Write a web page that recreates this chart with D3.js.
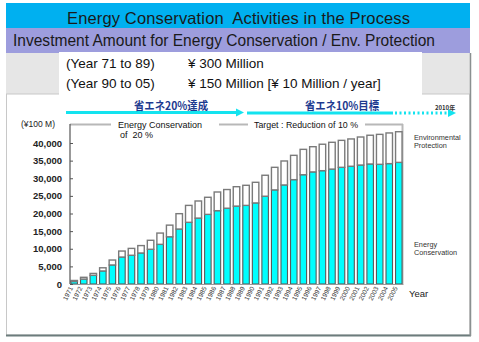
<!DOCTYPE html>
<html>
<head>
<meta charset="utf-8">
<script src="https://cdn.jsdelivr.net/npm/d3@7"></script>
<style>
  body { margin: 0; background: #fff; }
  svg { display: block; font-family: "Liberation Sans", Arial, sans-serif; }
  text { white-space: pre; }
</style>
</head>
<body>
<script>
// data (unit: 100 million yen)
var years = d3.range(1971, 2006);
var energyConservation = [700, 1400, 2450, 3700, 5400, 7650, 8150, 8800, 9850, 11250,
  13400, 15600, 17500, 18700, 19750, 20800, 21500, 22100, 22300, 23000,
  24900, 26700, 28100, 29600, 31000, 31800, 32150, 32600, 33100, 33400,
  33750, 34050, 33950, 34150, 34500];
var envProtection = [300, 500, 550, 900, 1400, 1700, 1950, 2100, 2550, 3200,
  3300, 4350, 4800, 4850, 4850, 5300, 5300, 5500, 5700, 5850,
  5950, 6400, 6800, 6900, 7200, 7150, 7500, 7600, 7650, 7750,
  7950, 8150, 8500, 8700, 8700];
var yTicks = [0, 5000, 10000, 15000, 20000, 25000, 30000, 35000, 40000];

var W = 479, H = 342;

var svg = d3.select("body").append("svg")
    .attr("width", W)
    .attr("height", H);

// ---- slide header ----
svg.append("rect").attr("x", 6).attr("y", 3).attr("width", 464).attr("height", 25)
    .attr("fill", "#00b0f0");
svg.append("text").attr("x", 67).attr("y", 24)
    .attr("font-size", 16.5).attr("fill", "#1a1a1a")
    .attr("textLength", 343).attr("lengthAdjust", "spacing")
    .text("Energy Conservation  Activities in the Process");

svg.append("rect").attr("x", 6).attr("y", 28).attr("width", 464).attr("height", 25)
    .attr("fill", "#9d9ddd");
svg.append("text").attr("x", 13).attr("y", 46)
    .attr("font-size", 17).attr("fill", "#1a1a1a")
    .attr("textLength", 422).attr("lengthAdjust", "spacingAndGlyphs")
    .text("Investment Amount for Energy Conservation / Env. Protection");

// grey strip behind the note box
svg.append("rect").attr("x", 6).attr("y", 53).attr("width", 464).attr("height", 41)
    .attr("fill", "#e6e6e6");

// chart panel
svg.append("rect").attr("x", 6.5).attr("y", 94).attr("width", 463).attr("height", 241)
    .attr("fill", "#fff").attr("stroke", "#c8c8c8").attr("stroke-width", 1);
svg.append("line").attr("x1", 6).attr("x2", 471).attr("y1", 335.5).attr("y2", 335.5)
    .attr("stroke", "#6c7c7c").attr("stroke-width", 2);
svg.append("line").attr("x1", 470.5).attr("x2", 470.5).attr("y1", 53).attr("y2", 336)
    .attr("stroke", "#8a9090").attr("stroke-width", 1.5);

// note box
svg.append("rect").attr("x", 59).attr("y", 52).attr("width", 363).attr("height", 43)
    .attr("fill", "#fff");
var notes = [
  ["(Year 71 to 89)", "¥ 300 Million", 68],
  ["(Year 90 to 05)", "¥ 150 Million [¥ 10 Million / year]", 88]
];
notes.forEach(function(n) {
  svg.append("text").attr("x", 66).attr("y", n[2]).attr("font-size", 13.5)
      .attr("fill", "#111").text(n[0]);
  svg.append("text").attr("x", 188).attr("y", n[2]).attr("font-size", 13.5)
      .attr("fill", "#111").text(n[1]);
});

// ---- chart ----
var x = d3.scaleBand().domain(years).range([70, 403])
    .paddingInner(0.32).paddingOuter(0.1);
var y = d3.scaleLinear().domain([0, 40000]).range([284, 143]);

var table = years.map(function(yr, i) {
  return { year: yr, energy: energyConservation[i], env: envProtection[i] };
});
var stack = d3.stack().keys(["energy", "env"])(table);

// frame (top + right), broken by labels
var frame = svg.append("g").attr("stroke", "#b8b8b8").attr("stroke-width", 2).attr("fill", "none");
[[70, 111], [219, 248], [365, 403]].forEach(function(s) {
  frame.append("line").attr("x1", s[0]).attr("x2", s[1]).attr("y1", 124.5).attr("y2", 124.5);
});
frame.append("line").attr("x1", 402.5).attr("x2", 402.5).attr("y1", 124).attr("y2", 284);

svg.append("text").attr("x", 118).attr("y", 128).attr("font-size", 9).attr("fill", "#111")
    .text("Energy Conservation");
svg.append("text").attr("x", 120).attr("y", 138).attr("font-size", 9).attr("fill", "#111")
    .text("of  20 %");
svg.append("text").attr("x", 254).attr("y", 128).attr("font-size", 9).attr("fill", "#111")
    .attr("textLength", 104).attr("lengthAdjust", "spacingAndGlyphs")
    .text("Target : Reduction of 10 %");

// bars
var fills = { energy: "#00ffff", env: "#ffffff" };
var strokes = { energy: "#5a5a5a", env: "#7a7a7a" };
svg.append("g").selectAll("g")
  .data(stack)
  .enter().append("g")
    .attr("fill", function(d) { return fills[d.key]; })
    .attr("stroke", function(d) { return strokes[d.key]; })
    .attr("stroke-width", function(d) { return d.key == "env" ? 1.4 : 1.1; })
  .selectAll("rect")
  .data(function(d) { return d; })
  .enter().append("rect")
    .attr("x", function(d) { return x(d.data.year); })
    .attr("width", x.bandwidth())
    .attr("y", function(d) { return y(d[1]); })
    .attr("height", function(d) { return y(d[0]) - y(d[1]); });

// x axis
var xAxis = svg.append("g").attr("transform", "translate(0,284)")
    .call(d3.axisBottom(x).tickSize(0).tickFormat(d3.format("d")));
xAxis.select(".domain").attr("stroke", "#999").attr("stroke-width", 1.2);
xAxis.selectAll("text")
    .attr("font-size", 6.5).attr("fill", "#333")
    .attr("text-anchor", "end")
    .attr("dx", 0).attr("dy", 0).attr("y", 0)
    .attr("transform", "translate(-1,4) rotate(-63)");

// y axis
var yAxis = svg.append("g").attr("transform", "translate(70,0)")
    .call(d3.axisLeft(y).tickValues(yTicks).tickSize(-3).tickPadding(8)
      .tickFormat(d3.format(",")));
yAxis.select(".domain").attr("d", "M0,124V284").attr("stroke", "#555").attr("stroke-width", 1.2);
yAxis.selectAll(".tick line").attr("stroke", "#555");
yAxis.selectAll("text").attr("font-size", 9.5).attr("font-weight", "bold").attr("fill", "#222");

svg.append("text").attr("x", 21).attr("y", 127).attr("font-size", 8.5).attr("fill", "#222")
    .text("(¥100 M)");
svg.append("text").attr("x", 409).attr("y", 297).attr("font-size", 9.5).attr("fill", "#222")
    .text("Year");

// series labels
[["Environmental", 140], ["Protection", 148], ["Energy", 247], ["Conservation", 255]].forEach(function(t) {
  svg.append("text").attr("x", 414).attr("y", t[1]).attr("font-size", 7.3).attr("fill", "#333")
      .text(t[0]);
});

// ---- arrows ----
var cyan = "#13e3ef";
svg.append("line").attr("x1", 66).attr("x2", 237).attr("y1", 112.5).attr("y2", 112.5)
    .attr("stroke", cyan).attr("stroke-width", 3);
svg.append("path").attr("d", "M236,108.5L244,112.5L236,116.5Z").attr("fill", cyan);

svg.append("line").attr("x1", 247).attr("x2", 393).attr("y1", 113).attr("y2", 113)
    .attr("stroke", cyan).attr("stroke-width", 3);
svg.append("line").attr("x1", 395).attr("x2", 448).attr("y1", 113).attr("y2", 113)
    .attr("stroke", cyan).attr("stroke-width", 3).attr("stroke-dasharray", "2,2.5");
svg.append("path").attr("d", "M448,109L456,113L448,117Z").attr("fill", cyan);

svg.append("text").attr("x", 134).attr("y", 110).attr("font-size", 11).attr("font-weight", "bold")
    .attr("fill", "#1d3a8f").attr("font-family", "Noto Sans CJK JP")
    .attr("textLength", 74).attr("lengthAdjust", "spacingAndGlyphs")
    .text("省エネ20%達成");
svg.append("text").attr("x", 305).attr("y", 110).attr("font-size", 11).attr("font-weight", "bold")
    .attr("fill", "#1d3a8f").attr("font-family", "Noto Sans CJK JP")
    .attr("textLength", 74).attr("lengthAdjust", "spacingAndGlyphs")
    .text("省エネ10%目標");
svg.append("text").attr("x", 435).attr("y", 110).attr("font-size", 6).attr("font-weight", "bold")
    .attr("fill", "#333").attr("font-family", "Noto Sans CJK JP")
    .text("2010年");
</script>
</body>
</html>
